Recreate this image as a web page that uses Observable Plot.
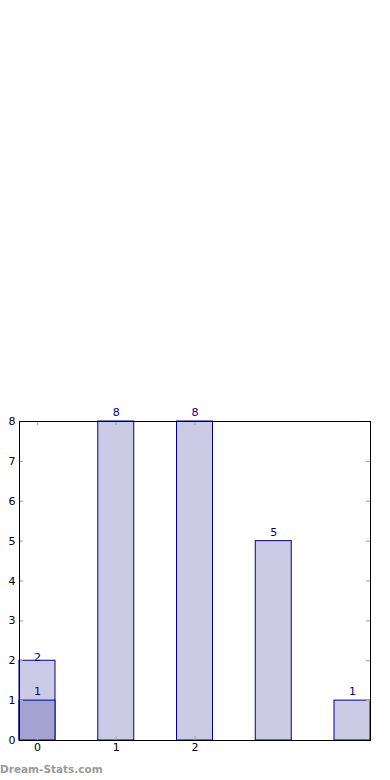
<!DOCTYPE html>
<html>
<head>
<meta charset="utf-8">
<script src="https://cdn.jsdelivr.net/npm/d3@7"></script>
<script src="https://cdn.jsdelivr.net/npm/@observablehq/plot@0.6"></script>
<style>
  html, body { margin: 0; padding: 0; background: #fff; }
  #wrap { position: relative; width: 390px; height: 780px; }
  #wm { position: absolute; left: 0; top: 763px; font-family: "DejaVu Sans", sans-serif; font-weight: bold; font-size: 10.5px; color: #9a9a9a; }
</style>
</head>
<body>
<div id="wrap"><div id="wm">Dream-Stats.com</div></div>
<script>
const categories = [0, 1, 2, 3, 4];
const counts = [2, 8, 8, 5, 1];
const overlayCategories = [0];
const overlayCounts = [1];
const xTickLabels = [0, 1, 2];
const yTicks = [0, 1, 2, 3, 4, 5, 6, 7, 8];

const bars = categories.map((c, i) => ({cat: c, value: counts[i]}));
const overlay = overlayCategories.map((c, i) => ({cat: c, value: overlayCounts[i]}));

const W = 390, H = 780, mL = 19, mR = 20, mT = 421, mB = 40;
const frameW = W - mL - mR, frameH = H - mT - mB;
const blue = "#00008b";
const tickGrey = "#aaaaaa";

const chart = Plot.plot({
  width: W,
  height: H,
  marginLeft: mL,
  marginRight: mR,
  marginTop: mT,
  marginBottom: mB,
  style: {fontFamily: "DejaVu Sans, sans-serif", fontSize: "11px", color: "#000", background: "#fff"},
  x: {type: "band", domain: categories, paddingInner: 0.543, paddingOuter: 0, round: false, label: null},
  y: {domain: [0, 8], label: null},
  marks: [
    Plot.barY(bars, {x: "cat", y: "value", fill: "#cbcbe5", stroke: blue, strokeWidth: 1}),
    Plot.barY(overlay, {x: "cat", y: "value", fill: "#a3a3d1", stroke: blue, strokeWidth: 1}),
    // inward ticks, left and right
    Plot.tickY(yTicks, {y: d => d, stroke: tickGrey, strokeWidth: 1.2, insetRight: frameW - 4}),
    Plot.tickY(yTicks, {y: d => d, stroke: tickGrey, strokeWidth: 1.2, insetLeft: frameW - 4}),
    // inward ticks, bottom and top
    Plot.tickX(xTickLabels, {x: d => d, stroke: tickGrey, strokeWidth: 1.2, insetTop: frameH - 4}),
    Plot.tickX(xTickLabels, {x: d => d, stroke: tickGrey, strokeWidth: 1.2, insetBottom: frameH - 4}),
    Plot.frame({stroke: "#000", strokeWidth: 1}),
    Plot.axisY(yTicks, {tickSize: 0, tickPadding: 4, fontSize: 11, fill: "#000"}),
    Plot.axisX(xTickLabels, {tickSize: 0, tickPadding: 3, fontSize: 11, fill: "#000"}),
    Plot.text(bars.filter(d => d.value !== 2), {x: "cat", y: "value", text: d => String(d.value), dy: -9, fill: blue, fontSize: 11}),
    Plot.text(bars.filter(d => d.value === 2), {x: "cat", y: "value", text: d => String(d.value), dy: -3, fill: blue, fontSize: 11}),
    Plot.text(overlay, {x: "cat", y: "value", text: d => String(d.value), dy: -9, fill: blue, fontSize: 11})
  ]
});
document.getElementById("wrap").prepend(chart);
chart.style.position = "absolute";
chart.style.left = "0";
chart.style.top = "0";
</script>
</body>
</html>
